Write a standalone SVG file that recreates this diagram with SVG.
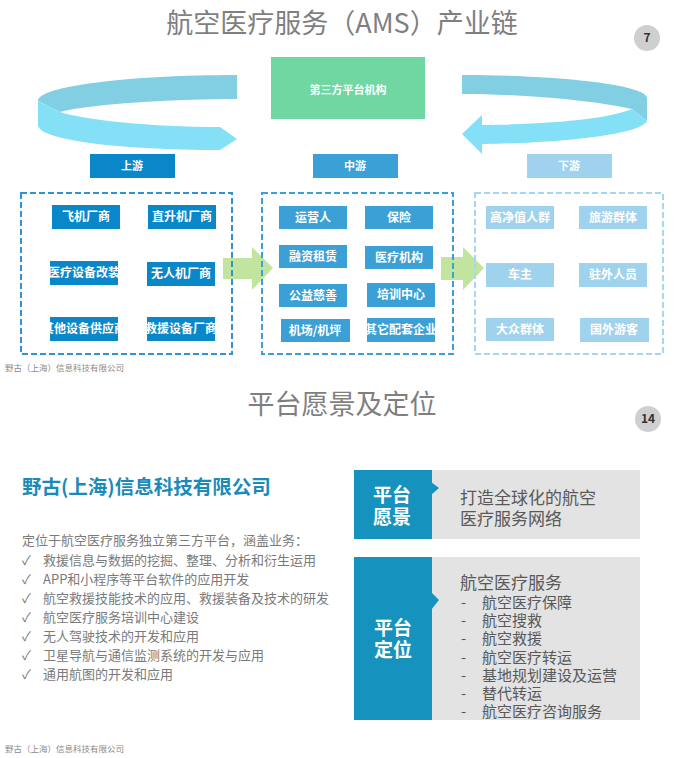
<svg xmlns="http://www.w3.org/2000/svg" width="685" height="758" viewBox="0 0 685 758">
<style>
text{font-family:"Noto Sans CJK SC","Noto Sans",sans-serif}
.title{font-size:27px;fill:#7f7f7f;text-anchor:middle}
.num{font-size:12px;font-weight:bold;fill:#333;text-anchor:middle}
.hdr{font-size:11px;font-weight:bold;fill:#fff;text-anchor:middle}
.bt{font-size:12px;font-weight:bold;fill:#fff;text-anchor:middle}
.up{fill:#0a87c8}
.mid{fill:#3aa0d6}
.down{fill:#9fd2ec}
.foot{font-size:8.5px;fill:#8a8a8a}
.desc{font-size:13px;fill:#7a7a7a}
.chk{font-size:13px;fill:#7a7a7a}
.side{font-size:19px;font-weight:bold;fill:#fff;text-anchor:middle}
.rt{font-size:17px;fill:#595959}
.li{font-size:15px;fill:#595959}
</style>

<!-- Top section -->
<text class="title" x="342" y="33">航空医疗服务（AMS）产业链</text>
<g id="page7"><circle cx="647" cy="38" r="13" fill="#cfcfcf"/><text class="num" x="647" y="42">7</text></g>

<g id="connectors">
  <!-- left curved arrow -->
  <path d="M237,75 L237,99 C180,99 95,103 60,112 L38,101 C38,86 130,75 237,75 Z" fill="#82cee3"/>
  <path d="M38,101 L60,112 C85,120 150,127 220,127 L237,139 L220,150 C120,150 38,140 38,125 Z" fill="#84e0f6"/>
  <!-- right curved arrow -->
  <path d="M462,75 C560,75 647,85 647,98 L647,121 L632,109 C590,100 520,94 462,94 Z" fill="#82cee3"/>
  <path d="M632,109 L647,121 C640,135 560,143 482,144 L482,154 L462,134 L482,115 L482,125 C560,124 610,118 632,109 Z" fill="#84e0f6"/>
  <!-- green flow arrows -->
  <path d="M223,258 L252,258 L252,247 L273,268 L252,290 L252,279 L223,279 Z" fill="#b2de86" fill-opacity="0.8"/>
  <path d="M441,257 L463,257 L463,247 L484,268 L463,290 L463,280 L441,280 Z" fill="#b2de86" fill-opacity="0.8"/>
</g>

<g id="platform"><rect x="271" y="57" width="154" height="62" fill="#70d6a2"/><text class="hdr" x="348" y="94">第三方平台机构</text></g>

<g id="hdr-up"><rect class="up" x="90" y="154" width="85" height="24"/><text class="hdr" x="132" y="170">上游</text></g>
<g id="hdr-mid"><rect class="mid" x="313" y="154" width="85" height="24"/><text class="hdr" x="355" y="170">中游</text></g>
<g id="hdr-down"><rect class="down" x="527" y="154" width="85" height="24"/><text class="hdr" x="569" y="170">下游</text></g>

<g id="group-up"><rect x="21" y="193" width="211" height="161" fill="none" stroke="#2f93d2" stroke-width="2" stroke-dasharray="6,3"/></g>
<g id="group-mid"><rect x="262" y="193" width="191" height="161" fill="none" stroke="#3aa0d6" stroke-width="2" stroke-dasharray="6,3"/></g>
<g id="group-down"><rect x="475" y="193" width="188" height="161" fill="none" stroke="#a6d5ee" stroke-width="2" stroke-dasharray="6,3"/></g>

<g id="u1"><rect class="up" x="52" y="205" width="68" height="24"/><text class="bt" x="86" y="221">飞机厂商</text></g>
<g id="u2"><rect class="up" x="148" y="205" width="68" height="24"/><text class="bt" x="182" y="221">直升机厂商</text></g>
<g id="u3"><rect class="up" x="50" y="261" width="68" height="24"/><text class="bt" x="84" y="277">医疗设备改装</text></g>
<g id="u4"><rect class="up" x="147" y="262" width="68" height="24"/><text class="bt" x="181" y="278">无人机厂商</text></g>
<g id="u5"><rect class="up" x="50" y="317" width="68" height="24"/><text class="bt" x="84" y="333">其他设备供应商</text></g>
<g id="u6"><rect class="up" x="147" y="317" width="68" height="24"/><text class="bt" x="181" y="333">救援设备厂商</text></g>

<g id="m1"><rect class="mid" x="279" y="206" width="68" height="23"/><text class="bt" x="313" y="222">运营人</text></g>
<g id="m2"><rect class="mid" x="365" y="206" width="68" height="23"/><text class="bt" x="399" y="222">保险</text></g>
<g id="m3"><rect class="mid" x="279" y="245" width="68" height="23"/><text class="bt" x="313" y="261">融资租赁</text></g>
<g id="m4"><rect class="mid" x="365" y="246" width="68" height="23"/><text class="bt" x="399" y="262">医疗机构</text></g>
<g id="m5"><rect class="mid" x="279" y="284" width="68" height="23"/><text class="bt" x="313" y="300">公益慈善</text></g>
<g id="m6"><rect class="mid" x="367" y="283" width="68" height="24"/><text class="bt" x="401" y="299">培训中心</text></g>
<g id="m7"><rect class="mid" x="281" y="319" width="69" height="23"/><text class="bt" x="315" y="335">机场/机坪</text></g>
<g id="m8"><rect class="mid" x="367" y="318" width="68" height="24"/><text class="bt" x="401" y="334">其它配套企业</text></g>

<g id="d1"><rect class="down" x="486" y="206" width="68" height="23"/><text class="bt" x="520" y="222">高净值人群</text></g>
<g id="d2"><rect class="down" x="579" y="206" width="68" height="23"/><text class="bt" x="613" y="222">旅游群体</text></g>
<g id="d3"><rect class="down" x="486" y="263" width="68" height="24"/><text class="bt" x="520" y="279">车主</text></g>
<g id="d4"><rect class="down" x="579" y="263" width="68" height="24"/><text class="bt" x="613" y="279">驻外人员</text></g>
<g id="d5"><rect class="down" x="486" y="318" width="68" height="23"/><text class="bt" x="520" y="334">大众群体</text></g>
<g id="d6"><rect class="down" x="580" y="318" width="69" height="24"/><text class="bt" x="614" y="334">国外游客</text></g>

<text class="foot" x="5" y="371">野古（上海）信息科技有限公司</text>

<!-- Bottom section -->
<text class="title" x="342" y="414">平台愿景及定位</text>
<g id="page14"><circle cx="648" cy="419" r="13" fill="#cfcfcf"/><text class="num" x="648" y="423">14</text></g>

<text x="22" y="494" font-size="19.5" font-weight="bold" fill="#1a8ab8">野古(上海)信息科技有限公司</text>

<text class="desc" x="22" y="545">定位于航空医疗服务独立第三方平台，涵盖业务：</text>
<g class="chk">
  <text x="22" y="565">✓</text><text x="43" y="565">救援信息与数据的挖掘、整理、分析和衍生运用</text>
  <text x="22" y="584">✓</text><text x="43" y="584">APP和小程序等平台软件的应用开发</text>
  <text x="22" y="603">✓</text><text x="43" y="603">航空救援技能技术的应用、救援装备及技术的研发</text>
  <text x="22" y="622">✓</text><text x="43" y="622">航空医疗服务培训中心建设</text>
  <text x="22" y="641">✓</text><text x="43" y="641">无人驾驶技术的开发和应用</text>
  <text x="22" y="660">✓</text><text x="43" y="660">卫星导航与通信监测系统的开发与应用</text>
  <text x="22" y="679">✓</text><text x="43" y="679">通用航图的开发和应用</text>
</g>

<g id="vision">
  <rect x="432" y="470" width="208" height="69" fill="#e3e3e3"/>
  <rect x="354" y="470" width="78" height="69" fill="#1592bd"/>
  <path d="M431,482 L439,488 L431,495 Z" fill="#1592bd"/>
  <text class="side" x="392" y="502">平台</text>
  <text class="side" x="392" y="524">愿景</text>
  <text class="rt" x="460" y="504">打造全球化的航空</text>
  <text class="rt" x="460" y="525">医疗服务网络</text>
</g>

<g id="position">
  <rect x="432" y="557" width="208" height="163" fill="#e3e3e3"/>
  <rect x="354" y="557" width="78" height="163" fill="#1592bd"/>
  <path d="M431,592 L439,600 L431,610 Z" fill="#1592bd"/>
  <text class="side" x="393" y="635">平台</text>
  <text class="side" x="393" y="657">定位</text>
  <text class="rt" x="460" y="589">航空医疗服务</text>
  <g class="li">
    <text x="461" y="608">-</text><text x="482" y="608">航空医疗保障</text>
    <text x="461" y="626">-</text><text x="482" y="626">航空搜救</text>
    <text x="461" y="644">-</text><text x="482" y="644">航空救援</text>
    <text x="461" y="663">-</text><text x="482" y="663">航空医疗转运</text>
    <text x="461" y="681">-</text><text x="482" y="681">基地规划建设及运营</text>
    <text x="461" y="699">-</text><text x="482" y="699">替代转运</text>
    <text x="461" y="717">-</text><text x="482" y="717">航空医疗咨询服务</text>
  </g>
</g>

<text class="foot" x="5" y="752">野古（上海）信息科技有限公司</text>
</svg>
